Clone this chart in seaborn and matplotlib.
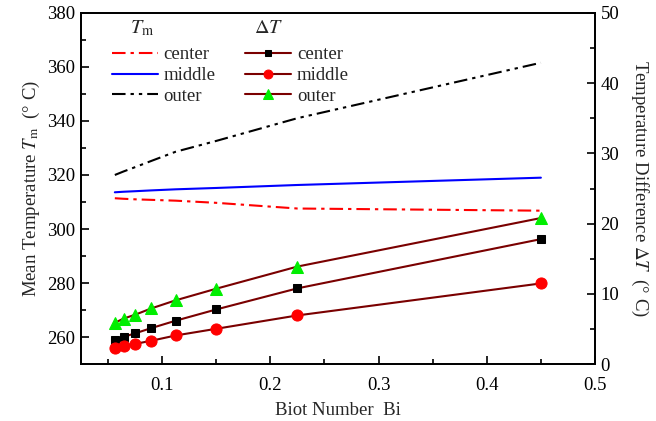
import matplotlib
matplotlib.use("Agg")
import matplotlib.pyplot as plt
from matplotlib.ticker import MultipleLocator
import seaborn as sns
import pandas as pd

# Biot numbers of the computed cases
bi = [0.05625, 0.0643, 0.075, 0.09, 0.1125, 0.15, 0.225, 0.45]

# Mean temperature T_m (deg C) in each region
tm_center = [311.4, 311.2, 311.0, 310.8, 310.5, 309.7, 307.6, 306.8]
tm_middle = [313.6, 313.8, 314.0, 314.3, 314.7, 315.2, 316.3, 319.0]
tm_outer = [320.0, 321.3, 322.9, 325.2, 328.6, 332.6, 341.0, 361.5]

# Temperature difference dT (deg C) in each region
dt_center = [3.4, 3.9, 4.4, 5.15, 6.2, 7.8, 10.8, 17.8]
dt_middle = [2.27, 2.6, 2.9, 3.35, 4.1, 5.05, 6.95, 11.5]
dt_outer = [5.9, 6.5, 7.05, 7.95, 9.1, 10.75, 13.9, 20.8]

region_labels = ["center", "middle", "outer"]

sns.set_theme(style="white")
plt.rcParams["font.family"] = ["Liberation Serif", "DejaVu Serif"]
plt.rcParams["mathtext.fontset"] = "stix"

df = pd.DataFrame({
    "Bi": bi,
    "tm_center": tm_center, "tm_middle": tm_middle, "tm_outer": tm_outer,
    "dt_center": dt_center, "dt_middle": dt_middle, "dt_outer": dt_outer,
})

fig = plt.figure(figsize=(6.56, 4.21), dpi=100)
ax = fig.add_axes([0.1235, 0.1347, 0.7835, 0.8351])
ax2 = ax.twinx()

lw = 1.5
# Mean temperature curves on the left axis
sns.lineplot(data=df, x="Bi", y="tm_center", ax=ax, color="#ff0000", lw=lw,
             linestyle=(0, (6.5, 2.4, 1.6, 2.4)))
sns.lineplot(data=df, x="Bi", y="tm_middle", ax=ax, color="#0000ff", lw=lw)
sns.lineplot(data=df, x="Bi", y="tm_outer", ax=ax, color="#000000", lw=lw,
             linestyle=(0, (6.5, 2.4, 1.6, 2.4, 1.6, 2.4)))

# Temperature differences on the right axis
dark_red = "#7a0000"
sns.lineplot(data=df, x="Bi", y="dt_center", ax=ax2, color=dark_red, lw=lw,
             marker="s", markersize=6, markerfacecolor="black",
             markeredgecolor="black")
sns.lineplot(data=df, x="Bi", y="dt_middle", ax=ax2, color=dark_red, lw=lw,
             marker="o", markersize=8, markerfacecolor="#ff0000",
             markeredgecolor="#ff0000")
sns.lineplot(data=df, x="Bi", y="dt_outer", ax=ax2, color=dark_red, lw=lw,
             marker="^", markersize=8.5, markerfacecolor="#00ee00",
             markeredgecolor="#00ee00")

fs = 13.5
ax.set_xlim(0.025, 0.5)
ax.set_ylim(250, 380)
ax2.set_ylim(0, 50)

ax.xaxis.set_minor_locator(MultipleLocator(0.05))
ax.yaxis.set_minor_locator(MultipleLocator(10))
ax2.yaxis.set_minor_locator(MultipleLocator(5))
ax.set_xticks([0.1, 0.2, 0.3, 0.4, 0.5])
ax.set_xticklabels(["0.1", "0.2", "0.3", "0.4", "0.5"])
ax.set_yticks([260, 280, 300, 320, 340, 360, 380])
ax2.set_yticks([0, 10, 20, 30, 40, 50])

for a in (ax, ax2):
    a.tick_params(which="major", direction="in", length=6, width=1.2,
                  labelsize=fs, color="black", labelcolor="black", pad=4)
    a.tick_params(which="minor", direction="in", length=3.5, width=1.2,
                  color="black")
    for s in a.spines.values():
        s.set_color("black")
        s.set_linewidth(1.3)
ax.tick_params(axis="x", which="both", bottom=True, top=False)
ax.tick_params(axis="x", which="major", pad=9)
ax.tick_params(axis="y", which="both", left=True, right=False)
ax2.tick_params(axis="y", which="both", right=True, left=False)

ax.set_xlabel("Biot Number  Bi", fontsize=fs, labelpad=6)
ax.set_ylabel(r"Mean Temperature $T_{\mathrm{m}}$  (° C)", fontsize=fs, labelpad=4)
ax2.set_ylabel(r"Temperature Difference $\Delta T$  (° C)", fontsize=fs,
               rotation=270, labelpad=22)

# Two-column legend: T_m lines on the left, dT lines with markers on the right
handles = ax.get_lines()[:3] + ax2.get_lines()[:3]
labels = region_labels + region_labels
leg = ax.legend(handles, labels, ncol=2, loc="upper left",
                bbox_to_anchor=(0.06, 0.905), frameon=False, fontsize=fs,
                handlelength=2.45, handletextpad=0.3, columnspacing=1.6,
                labelspacing=0.2, borderpad=0, borderaxespad=0,
                markerscale=0.8)
ax.text(0.118, 0.955, r"$T_{\mathrm{m}}$", transform=ax.transAxes,
        fontsize=fs + 1, ha="center", va="center")
ax.text(0.365, 0.955, r"$\Delta T$", transform=ax.transAxes,
        fontsize=fs + 1, ha="center", va="center")

fig.savefig("out.png", dpi=100)
